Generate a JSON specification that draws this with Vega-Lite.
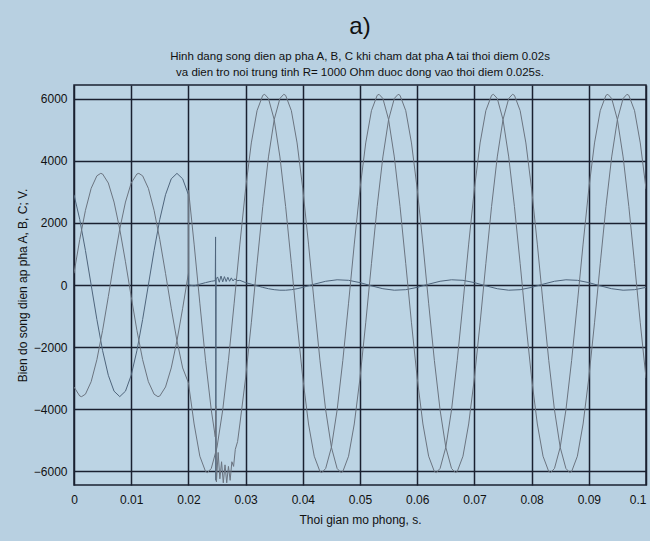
{
"$schema": "https://vega.github.io/schema/vega-lite/v6.json",
"width": 572, "height": 400,
"autosize": {"type": "none"},
"padding": {"left": 74, "top": 85, "right": 4, "bottom": 56},
"background": "#b8d0e1",
"title": {
  "text": "a)\u00a0\u00a0\u00a0\u00a0\u00a0\u00a0\u00a0",
  "subtitle": ["Hinh dang song dien ap pha A, B, C khi cham dat pha A tai thoi diem 0.02s", "va dien tro noi trung tinh R= 1000 Ohm duoc dong vao thoi diem 0.025s."],
  "font": "Liberation Sans", "fontSize": 24, "fontWeight": "normal", "color": "#111111",
  "subtitleFont": "Liberation Sans", "subtitleFontSize": 11.5, "subtitleColor": "#111111", "subtitleLineHeight": 16, "subtitlePadding": 12,
  "anchor": "middle", "frame": "group", "offset": 7
},
"config": {"view": {"fill": "#bcd4e4", "stroke": "#1a2030", "strokeWidth": 1.5}},
"data": {"values": [
{"s":"A","t":0,"v":2912},{"s":"A","t":0.001,"v":2117},{"s":"A","t":0.002,"v":1112},{"s":"A","t":0.003,"v":0},{"s":"A","t":0.004,"v":-1112},{"s":"A","t":0.005,"v":-2117},{"s":"A","t":0.006,"v":-2912},{"s":"A","t":0.007,"v":-3424},{"s":"A","t":0.008,"v":-3600},{"s":"A","t":0.009,"v":-3424},{"s":"A","t":0.01,"v":-2912},{"s":"A","t":0.011,"v":-2117},{"s":"A","t":0.012,"v":-1112},{"s":"A","t":0.013,"v":0},{"s":"A","t":0.014,"v":1112},{"s":"A","t":0.015,"v":2117},{"s":"A","t":0.016,"v":2912},{"s":"A","t":0.017,"v":3424},{"s":"A","t":0.018,"v":3600},{"s":"A","t":0.019,"v":3424},{"s":"A","t":0.02,"v":2912},{"s":"A","t":0.02003,"v":0},{"s":"A","t":0.021,"v":-27},{"s":"A","t":0.022,"v":27},{"s":"A","t":0.023,"v":77},{"s":"A","t":0.024,"v":120},{"s":"A","t":0.0247,"v":140},{"s":"A","t":0.02475,"v":1550},{"s":"A","t":0.0248,"v":-6300},{"s":"A","t":0.02485,"v":200},{"s":"A","t":0.0251,"v":260},{"s":"A","t":0.0254,"v":90},{"s":"A","t":0.0257,"v":290},{"s":"A","t":0.026,"v":100},{"s":"A","t":0.0263,"v":270},{"s":"A","t":0.0266,"v":110},{"s":"A","t":0.0269,"v":250},{"s":"A","t":0.0272,"v":120},{"s":"A","t":0.0275,"v":230},{"s":"A","t":0.0278,"v":130},{"s":"A","t":0.0281,"v":200},{"s":"A","t":0.0285,"v":140},{"s":"A","t":0.029,"v":150},{"s":"A","t":0.03,"v":77},{"s":"A","t":0.031,"v":27},{"s":"A","t":0.032,"v":-27},{"s":"A","t":0.033,"v":-77},{"s":"A","t":0.034,"v":-120},{"s":"A","t":0.035,"v":-151},{"s":"A","t":0.036,"v":-168},{"s":"A","t":0.037,"v":-168},{"s":"A","t":0.038,"v":-151},{"s":"A","t":0.039,"v":-120},{"s":"A","t":0.04,"v":-77},{"s":"A","t":0.042,"v":27},{"s":"A","t":0.044,"v":120},{"s":"A","t":0.046,"v":168},{"s":"A","t":0.048,"v":151},{"s":"A","t":0.05,"v":77},{"s":"A","t":0.052,"v":-27},{"s":"A","t":0.054,"v":-120},{"s":"A","t":0.056,"v":-168},{"s":"A","t":0.058,"v":-151},{"s":"A","t":0.06,"v":-77},{"s":"A","t":0.062,"v":27},{"s":"A","t":0.064,"v":120},{"s":"A","t":0.066,"v":168},{"s":"A","t":0.068,"v":151},{"s":"A","t":0.07,"v":77},{"s":"A","t":0.072,"v":-27},{"s":"A","t":0.074,"v":-120},{"s":"A","t":0.076,"v":-168},{"s":"A","t":0.078,"v":-151},{"s":"A","t":0.08,"v":-77},{"s":"A","t":0.082,"v":27},{"s":"A","t":0.084,"v":120},{"s":"A","t":0.086,"v":168},{"s":"A","t":0.088,"v":151},{"s":"A","t":0.09,"v":77},{"s":"A","t":0.092,"v":-27},{"s":"A","t":0.094,"v":-120},{"s":"A","t":0.096,"v":-168},{"s":"A","t":0.098,"v":-151},{"s":"A","t":0.1,"v":-77},
{"s":"B","t":0,"v":376},{"s":"B","t":0.001,"v":1464},{"s":"B","t":0.002,"v":2408},{"s":"B","t":0.003,"v":3118},{"s":"B","t":0.004,"v":3521},{"s":"B","t":0.00467,"v":3600},{"s":"B","t":0.005,"v":3580},{"s":"B","t":0.006,"v":3289},{"s":"B","t":0.007,"v":2675},{"s":"B","t":0.008,"v":1800},{"s":"B","t":0.009,"v":749},{"s":"B","t":0.01,"v":-376},{"s":"B","t":0.011,"v":-1464},{"s":"B","t":0.012,"v":-2408},{"s":"B","t":0.013,"v":-3118},{"s":"B","t":0.014,"v":-3521},{"s":"B","t":0.01467,"v":-3600},{"s":"B","t":0.015,"v":-3580},{"s":"B","t":0.016,"v":-3289},{"s":"B","t":0.017,"v":-2675},{"s":"B","t":0.018,"v":-1800},{"s":"B","t":0.019,"v":-749},{"s":"B","t":0.02,"v":376},{"s":"B","t":0.02003,"v":3050},{"s":"B","t":0.021,"v":1319},{"s":"B","t":0.022,"v":-587},{"s":"B","t":0.023,"v":-2431},{"s":"B","t":0.024,"v":-4031},{"s":"B","t":0.0247,"v":-4900},{"s":"B","t":0.02478,"v":-3900},{"s":"B","t":0.0249,"v":-6350},{"s":"B","t":0.0252,"v":-5400},{"s":"B","t":0.0255,"v":-6250},{"s":"B","t":0.0258,"v":-5700},{"s":"B","t":0.0261,"v":-6380},{"s":"B","t":0.0264,"v":-5800},{"s":"B","t":0.0267,"v":-6380},{"s":"B","t":0.027,"v":-5850},{"s":"B","t":0.0273,"v":-6300},{"s":"B","t":0.0276,"v":-5700},{"s":"B","t":0.0279,"v":-5850},{"s":"B","t":0.0282,"v":-5300},{"s":"B","t":0.0286,"v":-5050},{"s":"B","t":0.029,"v":-4482},{"s":"B","t":0.03,"v":-3000},{"s":"B","t":0.031,"v":-1219},{"s":"B","t":0.032,"v":687},{"s":"B","t":0.033,"v":2531},{"s":"B","t":0.034,"v":4131},{"s":"B","t":0.035,"v":5333},{"s":"B","t":0.036,"v":6016},{"s":"B","t":0.03667,"v":6150},{"s":"B","t":0.037,"v":6116},{"s":"B","t":0.038,"v":5622},{"s":"B","t":0.039,"v":4582},{"s":"B","t":0.04,"v":3100},
{"s":"B","t":0.041,"v":1319},{"s":"B","t":0.042,"v":-587},{"s":"B","t":0.043,"v":-2431},{"s":"B","t":0.044,"v":-4031},{"s":"B","t":0.045,"v":-5233},{"s":"B","t":0.046,"v":-5916},{"s":"B","t":0.04667,"v":-6050},{"s":"B","t":0.047,"v":-6016},{"s":"B","t":0.048,"v":-5522},{"s":"B","t":0.049,"v":-4482},{"s":"B","t":0.05,"v":-3000},{"s":"B","t":0.051,"v":-1219},{"s":"B","t":0.052,"v":687},{"s":"B","t":0.053,"v":2531},{"s":"B","t":0.054,"v":4131},{"s":"B","t":0.055,"v":5333},{"s":"B","t":0.056,"v":6016},{"s":"B","t":0.05667,"v":6150},{"s":"B","t":0.057,"v":6116},{"s":"B","t":0.058,"v":5622},{"s":"B","t":0.059,"v":4582},{"s":"B","t":0.06,"v":3100},
{"s":"B","t":0.061,"v":1319},{"s":"B","t":0.062,"v":-587},{"s":"B","t":0.063,"v":-2431},{"s":"B","t":0.064,"v":-4031},{"s":"B","t":0.065,"v":-5233},{"s":"B","t":0.066,"v":-5916},{"s":"B","t":0.06667,"v":-6050},{"s":"B","t":0.067,"v":-6016},{"s":"B","t":0.068,"v":-5522},{"s":"B","t":0.069,"v":-4482},{"s":"B","t":0.07,"v":-3000},{"s":"B","t":0.071,"v":-1219},{"s":"B","t":0.072,"v":687},{"s":"B","t":0.073,"v":2531},{"s":"B","t":0.074,"v":4131},{"s":"B","t":0.075,"v":5333},{"s":"B","t":0.076,"v":6016},{"s":"B","t":0.07667,"v":6150},{"s":"B","t":0.077,"v":6116},{"s":"B","t":0.078,"v":5622},{"s":"B","t":0.079,"v":4582},{"s":"B","t":0.08,"v":3100},
{"s":"B","t":0.081,"v":1319},{"s":"B","t":0.082,"v":-587},{"s":"B","t":0.083,"v":-2431},{"s":"B","t":0.084,"v":-4031},{"s":"B","t":0.085,"v":-5233},{"s":"B","t":0.086,"v":-5916},{"s":"B","t":0.08667,"v":-6050},{"s":"B","t":0.087,"v":-6016},{"s":"B","t":0.088,"v":-5522},{"s":"B","t":0.089,"v":-4482},{"s":"B","t":0.09,"v":-3000},{"s":"B","t":0.091,"v":-1219},{"s":"B","t":0.092,"v":687},{"s":"B","t":0.093,"v":2531},{"s":"B","t":0.094,"v":4131},{"s":"B","t":0.095,"v":5333},{"s":"B","t":0.096,"v":6016},{"s":"B","t":0.09667,"v":6150},{"s":"B","t":0.097,"v":6116},{"s":"B","t":0.098,"v":5622},{"s":"B","t":0.099,"v":4582},{"s":"B","t":0.1,"v":3100},
{"s":"C","t":0,"v":-3289},{"s":"C","t":0.001,"v":-3580},{"s":"C","t":0.00133,"v":-3600},{"s":"C","t":0.002,"v":-3521},{"s":"C","t":0.003,"v":-3118},{"s":"C","t":0.004,"v":-2408},{"s":"C","t":0.005,"v":-1464},{"s":"C","t":0.006,"v":-376},{"s":"C","t":0.007,"v":749},{"s":"C","t":0.008,"v":1800},{"s":"C","t":0.009,"v":2675},{"s":"C","t":0.01,"v":3289},{"s":"C","t":0.011,"v":3580},{"s":"C","t":0.01133,"v":3600},{"s":"C","t":0.012,"v":3521},{"s":"C","t":0.013,"v":3118},{"s":"C","t":0.014,"v":2408},{"s":"C","t":0.015,"v":1464},{"s":"C","t":0.016,"v":376},{"s":"C","t":0.017,"v":-749},{"s":"C","t":0.018,"v":-1800},{"s":"C","t":0.019,"v":-2675},{"s":"C","t":0.02,"v":-3150},{"s":"C","t":0.021,"v":-4482},{"s":"C","t":0.022,"v":-5522},{"s":"C","t":0.023,"v":-6016},{"s":"C","t":0.02333,"v":-6050},{"s":"C","t":0.024,"v":-5916},{"s":"C","t":0.025,"v":-5233},{"s":"C","t":0.026,"v":-4031},{"s":"C","t":0.027,"v":-2431},{"s":"C","t":0.028,"v":-587},{"s":"C","t":0.029,"v":1319},{"s":"C","t":0.03,"v":3100},{"s":"C","t":0.031,"v":4582},{"s":"C","t":0.032,"v":5622},{"s":"C","t":0.033,"v":6116},{"s":"C","t":0.03333,"v":6150},{"s":"C","t":0.034,"v":6016},{"s":"C","t":0.035,"v":5333},{"s":"C","t":0.036,"v":4131},{"s":"C","t":0.037,"v":2531},{"s":"C","t":0.038,"v":687},{"s":"C","t":0.039,"v":-1219},{"s":"C","t":0.04,"v":-3000},
{"s":"C","t":0.041,"v":-4482},{"s":"C","t":0.042,"v":-5522},{"s":"C","t":0.043,"v":-6016},{"s":"C","t":0.04333,"v":-6050},{"s":"C","t":0.044,"v":-5916},{"s":"C","t":0.045,"v":-5233},{"s":"C","t":0.046,"v":-4031},{"s":"C","t":0.047,"v":-2431},{"s":"C","t":0.048,"v":-587},{"s":"C","t":0.049,"v":1319},{"s":"C","t":0.05,"v":3100},{"s":"C","t":0.051,"v":4582},{"s":"C","t":0.052,"v":5622},{"s":"C","t":0.053,"v":6116},{"s":"C","t":0.05333,"v":6150},{"s":"C","t":0.054,"v":6016},{"s":"C","t":0.055,"v":5333},{"s":"C","t":0.056,"v":4131},{"s":"C","t":0.057,"v":2531},{"s":"C","t":0.058,"v":687},{"s":"C","t":0.059,"v":-1219},{"s":"C","t":0.06,"v":-3000},
{"s":"C","t":0.061,"v":-4482},{"s":"C","t":0.062,"v":-5522},{"s":"C","t":0.063,"v":-6016},{"s":"C","t":0.06333,"v":-6050},{"s":"C","t":0.064,"v":-5916},{"s":"C","t":0.065,"v":-5233},{"s":"C","t":0.066,"v":-4031},{"s":"C","t":0.067,"v":-2431},{"s":"C","t":0.068,"v":-587},{"s":"C","t":0.069,"v":1319},{"s":"C","t":0.07,"v":3100},{"s":"C","t":0.071,"v":4582},{"s":"C","t":0.072,"v":5622},{"s":"C","t":0.073,"v":6116},{"s":"C","t":0.07333,"v":6150},{"s":"C","t":0.074,"v":6016},{"s":"C","t":0.075,"v":5333},{"s":"C","t":0.076,"v":4131},{"s":"C","t":0.077,"v":2531},{"s":"C","t":0.078,"v":687},{"s":"C","t":0.079,"v":-1219},{"s":"C","t":0.08,"v":-3000},
{"s":"C","t":0.081,"v":-4482},{"s":"C","t":0.082,"v":-5522},{"s":"C","t":0.083,"v":-6016},{"s":"C","t":0.08333,"v":-6050},{"s":"C","t":0.084,"v":-5916},{"s":"C","t":0.085,"v":-5233},{"s":"C","t":0.086,"v":-4031},{"s":"C","t":0.087,"v":-2431},{"s":"C","t":0.088,"v":-587},{"s":"C","t":0.089,"v":1319},{"s":"C","t":0.09,"v":3100},{"s":"C","t":0.091,"v":4582},{"s":"C","t":0.092,"v":5622},{"s":"C","t":0.093,"v":6116},{"s":"C","t":0.09333,"v":6150},{"s":"C","t":0.094,"v":6016},{"s":"C","t":0.095,"v":5333},{"s":"C","t":0.096,"v":4131},{"s":"C","t":0.097,"v":2531},{"s":"C","t":0.098,"v":687},{"s":"C","t":0.099,"v":-1219},{"s":"C","t":0.1,"v":-3000}
]},
"mark": {"type": "line", "strokeWidth": 1, "clip": true},
"encoding": {
  "x": {"field": "t", "type": "quantitative",
    "scale": {"domain": [0, 0.1], "nice": false, "zero": false},
    "axis": {"values": [0,0.01,0.02,0.03,0.04,0.05,0.06,0.07,0.08,0.09,0.1], "format": ".2~f",
      "grid": true, "gridColor": "#1a2030", "gridWidth": 1.5, "gridOpacity": 1,
      "domain": false, "ticks": false, "labelPadding": 9, "labelFlush": false, "labelOverlap": false,
      "labelAlign": {"condition": {"test": "datum.value >= 0.099", "value": "right"}, "value": "center"},
      "labelFont": "Liberation Sans", "labelFontSize": 12, "labelColor": "#111111",
      "title": "Thoi gian mo phong, s.", "titleFont": "Liberation Sans", "titleFontSize": 12, "titleFontWeight": "normal", "titleColor": "#111111", "titlePadding": 9}},
  "y": {"field": "v", "type": "quantitative",
    "scale": {"domain": [-6450, 6450], "nice": false, "zero": false},
    "axis": {"values": [-6000,-4000,-2000,0,2000,4000,6000], "format": "d",
      "grid": true, "gridColor": "#1a2030", "gridWidth": 1.5, "gridOpacity": 1,
      "domain": false, "ticks": false, "labelPadding": 7, "labelFlush": false,
      "labelFont": "Liberation Sans", "labelFontSize": 12, "labelColor": "#111111",
      "title": "Bien do song dien ap pha A, B, C; V.", "titleFont": "Liberation Sans", "titleFontSize": 12, "titleFontWeight": "normal", "titleColor": "#111111", "titlePadding": 4}},
  "color": {"field": "s", "type": "nominal", "scale": {"domain": ["A","B","C"], "range": ["#4f657c", "#6b7480", "#6b7480"]}, "legend": null}
}
}
